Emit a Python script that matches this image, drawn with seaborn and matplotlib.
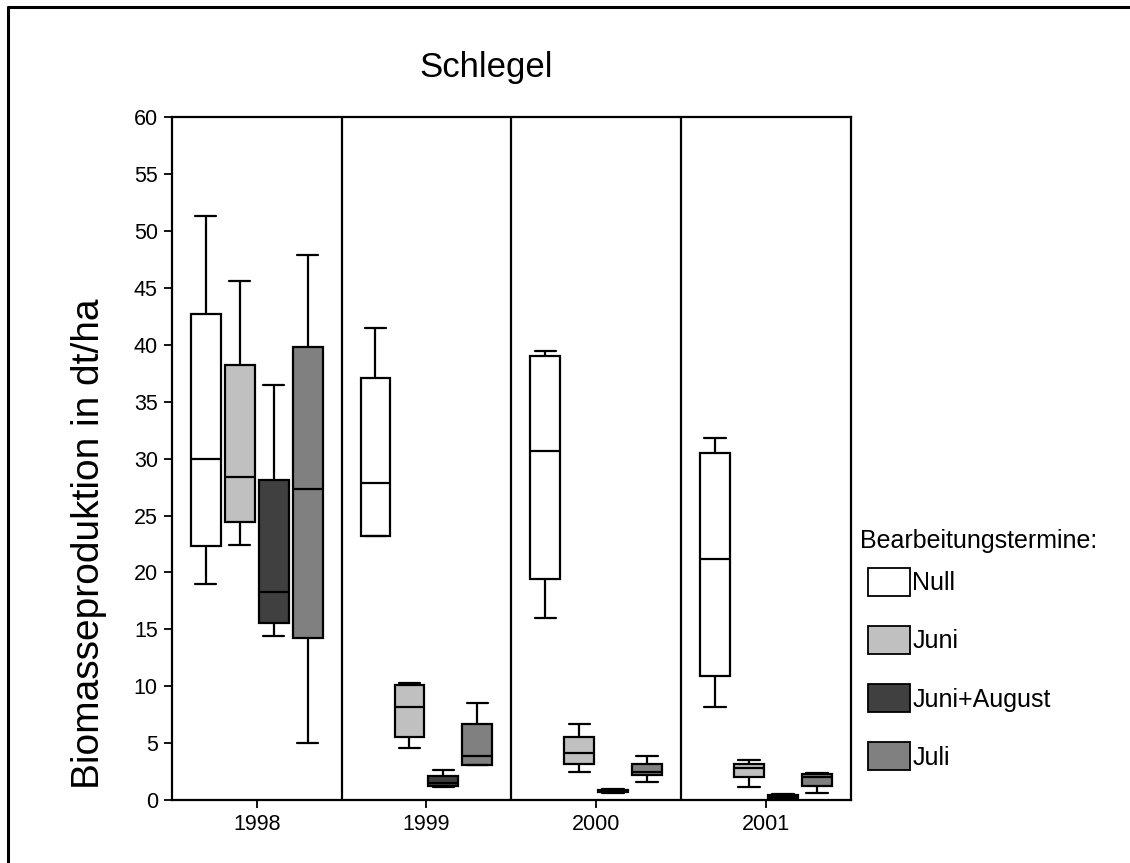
import numpy as np
import pandas as pd
import matplotlib.pyplot as plt
import matplotlib.patches as mpatches
from matplotlib.lines import Line2D
import seaborn as sns

# Jahre und Bearbeitungstermine
years = ["1998", "1999", "2000", "2001"]
treatments = ["Null", "Juni", "Juni+August", "Juli"]
colors = ["#ffffff", "#c0c0c0", "#404040", "#808080"]

# five-number summaries: min, Q1, median, Q3, max
null_vals = [[19.0, 22.3, 30.0, 42.7, 51.3],
             [23.2, 23.2, 27.9, 37.1, 41.5],
             [16.0, 19.4, 30.7, 39.0, 39.5],
             [8.2, 10.9, 21.2, 30.5, 31.8]]
juni_vals = [[22.4, 24.4, 28.4, 38.2, 45.6],
             [4.6, 5.5, 8.2, 10.1, 10.3],
             [2.5, 3.2, 4.1, 5.5, 6.7],
             [1.1, 2.0, 2.8, 3.2, 3.5]]
juniaug_vals = [[14.4, 15.6, 18.3, 28.1, 36.5],
                [1.1, 1.2, 1.5, 2.1, 2.6],
                [0.6, 0.7, 0.8, 0.9, 1.0],
                [0.0, 0.1, 0.3, 0.4, 0.5]]
juli_vals = [[5.0, 14.2, 27.3, 39.8, 47.9],
             [3.1, 3.1, 3.9, 6.7, 8.5],
             [1.6, 2.2, 2.5, 3.2, 3.9],
             [0.6, 1.2, 2.0, 2.3, 2.4]]

rows = []
for t, vals in zip(treatments, [null_vals, juni_vals, juniaug_vals, juli_vals]):
    for y, v in zip(years, vals):
        for x in v:
            rows.append({"Jahr": y, "Termin": t, "Wert": x})
df = pd.DataFrame(rows)

sns.set_style("white")
plt.rcParams["font.family"] = ["Liberation Sans", "DejaVu Sans"]
plt.rcParams["text.color"] = "black"
plt.rcParams["axes.labelcolor"] = "black"
plt.rcParams["xtick.color"] = "black"
plt.rcParams["ytick.color"] = "black"

fig = plt.figure(figsize=(11.3, 8.63), dpi=100)
ax = fig.add_axes([0.152, 0.073, 0.601, 0.791])

sns.boxplot(data=df, x="Jahr", y="Wert", hue="Termin", order=years,
            hue_order=treatments, palette=dict(zip(treatments, colors)),
            whis=(0, 100), linecolor="black", linewidth=1.6, gap=0.12,
            width=0.8, saturation=1, legend=False, ax=ax)

# wider whisker caps like the original
for cont in ax.containers:
    for cap in getattr(cont, "caps", []):
        xs = cap.get_xdata()
        mid = (xs[0] + xs[1]) / 2
        cap.set_xdata([mid - 0.063, mid + 0.063])

# Trennlinien zwischen den Jahren
for i in range(len(years) - 1):
    ax.axvline(i + 0.5, color="black", lw=1.6)

ax.set_ylim(0, 60)
ax.set_xlim(-0.5, 3.5)
ax.set_yticks(np.arange(0, 61, 5))
ax.tick_params(axis="both", labelsize=15.5, length=6, width=1.3, direction="out",
               color="black", left=True, bottom=True, pad=4)
for s in ax.spines.values():
    s.set_color("black")
    s.set_linewidth(1.6)
ax.set_xlabel("")
ax.set_ylabel("Biomasseproduktion in dt/ha", fontsize=28)
ax.yaxis.set_label_coords(-0.095, 0.376)

fig.text(486 / 1130, 1 - 67 / 863, "Schlegel", fontsize=25,
         ha="center", va="center")

# Legende
fig.text(860 / 1130, 1 - 541 / 863, "Bearbeitungstermine:", fontsize=18,
         ha="left", va="center")
handles = [mpatches.Patch(facecolor=c, edgecolor="black", linewidth=1.3)
           for c in colors]
leg = fig.legend(handles, treatments, loc="upper left",
                 bbox_to_anchor=(868 / 1130, 1 - 568 / 863),
                 frameon=False, fontsize=18, borderaxespad=0,
                 handlelength=1.68, handleheight=1.35, handletextpad=0.1,
                 labelspacing=1.2, borderpad=0)

# Rahmen oben und links
fig.add_artist(Line2D([0.007, 1.0], [0.992, 0.992], color="black", lw=2.2,
                      transform=fig.transFigure))
fig.add_artist(Line2D([0.007, 0.007], [0.0, 0.992], color="black", lw=2.2,
                      transform=fig.transFigure))

fig.savefig("out.png", dpi=100)
